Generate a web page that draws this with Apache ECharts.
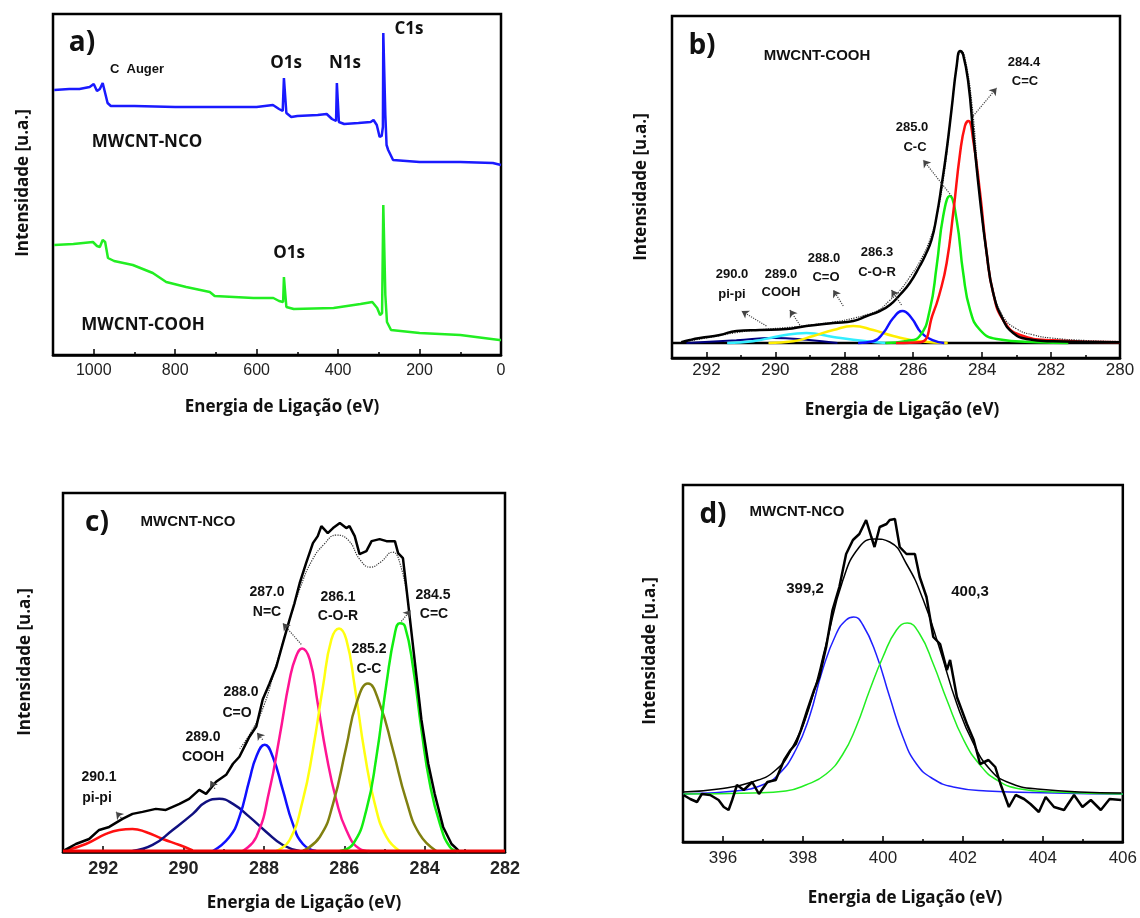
<!DOCTYPE html>
<html>
<head>
<meta charset="utf-8">
<title>XPS MWCNT</title>
<script src="https://cdn.jsdelivr.net/npm/echarts@6/dist/echarts.min.js"></script>
<style>
    html, body { margin: 0; padding: 0; background: #fff; }
    #chart { width: 1140px; height: 918px; }
</style>
</head>
<body>
<div id="chart"></div>
<script>
// ---- a) survey spectra [eV, intensity]
var aNCO = [[1097,265],[1060,266],[1035,266],[1010,268],[1000,271],[992,264],[985,266],[978,272],[972,262],[966,252],[958,249],[900,249],[800,248],[700,248],[600,248],[560,250],[545,246],[536,244],[533,277],[530,277],[527,242],[515,238],[500,239],[450,240],[428,241],[415,236],[405,234],[403,272],[401,272],[398,233],[385,231],[350,232],[320,233],[313,235],[305,230],[298,218],[293,219],[290,228],[289,322],[287,322],[284,240],[281,210],[277,205],[271,200],[265,195],[200,193],[100,193],[20,192],[0,190]];
var aCOOH = [[1097,110],[1050,111],[1002,113],[992,109],[985,108],[978,115],[972,113],[965,97],[950,94],[904,90],[855,82],[822,73],[773,68],[715,63],[703,59],[608,57],[559,57],[545,54],[535,53],[533,78],[530,78],[527,48],[509,46],[411,47],[345,51],[316,53],[304,47],[297,40],[292,42],[289,150],[287,150],[284,60],[280,33],[270,25],[200,22],[100,20],[4,15],[0,15]];

// ---- b) C1s MWCNT-COOH
var bExp = [[292.73,0.7],[292.48,3],[292.19,5],[291.61,8],[291.13,12],[290.45,13],[289.68,14],[289.1,17],[288.32,20],[287.74,22],[287.35,27],[286.97,32],[286.68,38],[286.39,48],[286.1,60],[285.81,77],[285.66,87],[285.47,103],[285.32,127],[285.18,157],[285.03,193],[284.89,233],[284.74,277],[284.64,292],[284.55,288],[284.4,260],[284.26,210],[284.06,143],[283.87,90],[283.68,50],[283.39,23],[283.1,10],[282.71,4],[281.94,1.7],[280,0.7]];
var bSum = [[292.7,1],[292,5],[291.2,10],[290.5,13],[289.5,16],[289,18],[288.3,21],[287.7,25],[287.3,29],[287,33],[286.7,42],[286.4,52],[286.1,66],[285.8,82],[285.5,105],[285.3,130],[285.1,170],[284.9,230],[284.7,285],[284.6,292],[284.5,285],[284.3,240],[284.1,160],[283.9,95],[283.7,55],[283.4,27],[283,14],[282.5,8],[282,5],[281,2.5],[280,1.5]];
var bCC = [[286.5,0],[285.8,0.7],[285.42,30],[285.23,50],[285.03,80],[284.84,130],[284.64,190],[284.5,217],[284.4,222],[284.26,203],[284.06,150],[283.87,90],[283.68,50],[283.39,23],[282.9,8],[281.94,2.7],[280,0.7]];
var bCmC = [[286.8,0],[286.19,2],[285.81,7],[285.52,33],[285.32,77],[285.13,127],[284.94,147],[284.74,123],[284.55,70],[284.35,33],[284.06,13],[283.58,4],[282.4,0.7],[281.5,0]];
var bCOR = [[287.6,0],[287.16,1.7],[286.87,10],[286.58,25],[286.31,32],[286.05,25],[285.76,10],[285.42,2.7],[285.1,0]];
var bCO = [[290.2,0],[289.48,1.7],[288.9,7],[288.32,13],[287.74,17],[287.16,13],[286.58,7],[285.81,1.7],[285,0]];
var bCOOH = [[291.4,0],[290.65,1.7],[289.87,7],[289.1,10],[288.32,6],[287.35,1.7],[286.8,0]];
var bPi = [[292.58,0],[291.13,2.7],[290.06,5],[289.1,3.3],[288.2,0]];
var bBase = [[293,0],[280,0]];
var bArrows = [[[284.26,227],[283.58,255]],[[284.89,147],[285.71,183]],[[286.34,38],[286.63,53]],[[288.03,37],[288.32,53]],[[289.29,18],[289.58,33]],[[290.26,17],[290.98,32]]];

// ---- c) C1s MWCNT-NCO
var cExp = [[292.97,0.7],[292.68,7],[292.35,12],[292.1,21],[291.85,24],[291.52,32],[291.27,37],[291.02,39],[290.69,42],[290.44,41],[290.1,47],[289.86,52],[289.61,61],[289.44,57],[289.19,69],[288.94,76],[288.77,87],[288.61,94],[288.36,114],[288.19,124],[288.03,151],[287.86,167],[287.69,184],[287.53,207],[287.36,231],[287.24,247],[287.11,267],[286.95,287],[286.78,307],[286.66,314],[286.57,324],[286.41,317],[286.28,322],[286.11,327],[285.95,322],[285.87,324],[285.74,314],[285.62,296],[285.45,299],[285.32,309],[285.12,311],[284.95,309],[284.74,309],[284.66,297],[284.54,292],[284.41,247],[284.24,187],[284.08,131],[283.91,87],[283.75,57],[283.54,24],[283.33,7],[283.16,0.7]];
var cSum = [[288.6,102],[288.3,120],[288,145],[287.7,185],[287.4,225],[287.1,262],[286.8,290],[286.5,306],[286.2,315],[285.9,310],[285.6,290],[285.35,283],[285.1,288],[284.8,298],[284.6,285],[284.4,245]];
var cPi = [[292.93,0.7],[292.43,7],[291.93,17],[291.6,21],[291.27,22],[290.94,19],[290.52,12],[290.1,6],[289.77,0.7]];
var cCOOH = [[291.27,0],[290.77,6],[290.27,21],[289.77,37],[289.44,49],[289.11,52],[288.77,47],[288.36,34],[287.94,19],[287.53,6],[287.11,0]];
var cCO = [[289.27,0],[288.86,14],[288.61,34],[288.36,71],[288.19,94],[287.98,106],[287.78,94],[287.53,61],[287.28,27],[287.03,7],[286.7,0]];
var cNC = [[288.53,0],[288.19,14],[287.86,61],[287.61,114],[287.36,171],[287.2,194],[287.05,202],[286.86,191],[286.66,147],[286.45,97],[286.2,51],[285.95,21],[285.62,2.3],[285.37,0]];
var cCOR = [[287.69,0],[287.36,11],[287.03,51],[286.78,101],[286.53,164],[286.32,211],[286.13,222],[285.95,211],[285.74,164],[285.49,97],[285.24,47],[284.95,14],[284.62,0]];
var cCmC = [[287.03,0],[286.61,14],[286.28,47],[285.95,104],[285.7,147],[285.41,167],[285.12,147],[284.79,101],[284.46,51],[284.13,17],[283.71,0]];
var cCC = [[286.11,0],[285.78,7],[285.45,41],[285.2,94],[284.95,167],[284.74,217],[284.62,227],[284.49,224],[284.28,181],[284.08,121],[283.87,67],[283.62,27],[283.37,4],[283.16,0]];
var cBase = [[293,0],[282,0]];
var cArrows = [[[287.07,206],[287.53,227]],[[284.58,229],[284.35,240]],[[288.03,111],[288.17,118]],[[289.22,62],[289.33,70]],[[291.55,33],[291.68,39]]];

// ---- d) N1s MWCNT-NCO
var dExp = [[395.01,47],[395.18,43],[395.35,40],[395.47,48],[395.68,47],[395.89,42],[396.02,35],[396.14,32],[396.23,42],[396.35,57],[396.52,52],[396.73,60],[396.9,48],[397.11,60],[397.32,62],[397.53,82],[397.69,92],[397.82,98],[397.95,112],[398.11,132],[398.28,152],[398.41,165],[398.58,195],[398.74,232],[398.91,255],[399.08,288],[399.25,302],[399.41,308],[399.58,322],[399.71,305],[399.79,295],[399.92,315],[400.09,318],[400.17,322],[400.3,323],[400.42,295],[400.59,288],[400.8,288],[400.92,265],[401.09,245],[401.26,205],[401.43,198],[401.6,172],[401.68,182],[401.85,145],[402.1,118],[402.27,102],[402.43,78],[402.64,82],[402.81,75],[402.94,58],[403.15,35],[403.32,47],[403.53,43],[403.69,38],[403.9,30],[404.07,45],[404.28,35],[404.53,32],[404.78,47],[404.99,35],[405.2,42],[405.45,32],[405.67,43],[405.96,42]];
var dSum = [[395.01,50],[395.89,53],[396.73,60],[397.32,72],[397.74,95],[398.16,135],[398.58,198],[399.0,262],[399.41,295],[399.79,303],[400.17,300],[400.59,278],[401.01,242],[401.43,192],[401.85,138],[402.27,98],[402.69,72],[403.11,60],[403.86,53],[405.96,49]];
var d3992 = [[395.01,48],[396.31,51],[396.98,57],[397.4,68],[397.82,92],[398.16,125],[398.49,172],[398.83,208],[399.08,222],[399.27,225],[399.5,217],[399.83,188],[400.17,145],[400.5,105],[400.84,78],[401.26,63],[401.76,55],[402.6,51],[404.28,49],[406,48]];
var d4003 = [[395.01,48],[396.73,49],[397.57,51],[398.07,57],[398.58,68],[399.0,88],[399.33,115],[399.67,152],[400.0,185],[400.34,212],[400.61,219],[400.92,208],[401.26,178],[401.6,142],[402.02,102],[402.43,77],[402.85,62],[403.44,53],[404.28,50],[406,48]];

var chart = echarts.init(document.getElementById('chart'));

var tickFont = 'Liberation Sans, Arial, sans-serif';
var titleFont = 'Open Sans, DejaVu Sans, sans-serif';

function grid(l, t, w, h) {
    return {left: l, top: t, width: w, height: h, show: true, borderColor: '#000', borderWidth: 2.5, backgroundColor: 'transparent'};
}
function xAx(gi, min, max, interval, inverse, fs, bold, hideMin, margin) {
    var ax = {
        gridIndex: gi, type: 'value', min: min, max: max, inverse: inverse,
        axisLine: {show: true, onZero: false, lineStyle: {color: '#000', width: 2.5}},
        axisTick: {show: true, inside: true, length: 6, lineStyle: {color: '#000', width: 1.5}},
        minorTick: {show: true, splitNumber: 2, length: 3, lineStyle: {color: '#000', width: 1.5}},
        axisLabel: {color: '#222', fontSize: fs, fontFamily: tickFont, fontWeight: bold ? 'bold' : 'normal', margin: margin || 8,
            showMaxLabel: hideMin ? true : false, showMinLabel: hideMin ? false : true,
            formatter: function (v) { return String(v); }},
        splitLine: {show: false}
    };
    if (interval) ax.interval = interval;
    return ax;
}
function yAx(gi, min, max) {
    return {gridIndex: gi, type: 'value', min: min, max: max, show: false, splitLine: {show: false}};
}
function line(gi, data, color, width, smooth, dash) {
    return {
        type: 'line', xAxisIndex: gi, yAxisIndex: gi, data: data, showSymbol: false, symbol: 'none',
        smooth: smooth, z: 3,
        lineStyle: {color: color, width: width, type: dash || 'solid'}
    };
}
function arrows(gi, list) {
    return {
        type: 'line', xAxisIndex: gi, yAxisIndex: gi, data: [], symbol: 'none',
        markLine: {
            silent: true, symbol: ['none', 'arrow'], symbolSize: 7,
            lineStyle: {type: 'dotted', color: '#444', width: 1.2},
            label: {show: false},
            data: list.map(function (a) { return [{coord: a[0]}, {coord: a[1]}]; })
        }
    };
}
function txt(x, y, s, size, weight, rot, font) {
    return {
        type: 'text', x: x, y: y, rotation: rot || 0, z: 10,
        style: {text: s, fill: '#111', fontSize: size, fontWeight: weight || 'bold',
            fontFamily: font || tickFont, align: 'center', verticalAlign: 'middle'}
    };
}

var option = {
    animation: false,
    backgroundColor: '#fff',
    grid: [grid(53, 14, 448, 341), grid(672, 16, 448, 342), grid(63, 493, 442, 359), grid(683, 485, 441, 357)],
    xAxis: [
        xAx(0, 0, 1100, 200, true, 16, false),
        xAx(1, 280, 293, 2, true, 17, false, false, 4),
        xAx(2, 282, 293, 2, true, 18, true),
        xAx(3, 395, 406, null, false, 17, false, true)
    ],
    yAxis: [yAx(0, 0, 341), yAx(1, -15, 327), yAx(2, -1, 357), yAx(3, 0, 357)],
    series: [
        line(0, aNCO, '#1a1aff', 2.5, false),
        line(0, aCOOH, '#22ee22', 2.5, false),

        line(1, bBase, '#000', 2.5, false),
        line(1, bPi, '#000080', 2, true),
        line(1, bCOOH, '#33eeff', 2.5, true),
        line(1, bCO, '#ffee00', 2.5, true),
        line(1, bCOR, '#1010ff', 2.5, true),
        line(1, bCmC, '#11ee11', 2.5, true),
        line(1, bCC, '#ff1010', 2.5, true),
        line(1, bSum, '#333', 1.2, true, 'dotted'),
        line(1, bExp, '#000', 2.5, true),
        arrows(1, bArrows),

        line(2, cPi, '#ff1010', 2.5, true),
        line(2, cCOOH, '#101080', 2.5, true),
        line(2, cCO, '#1010ff', 2.5, true),
        line(2, cNC, '#ff1493', 2.5, true),
        line(2, cCOR, '#ffff10', 2.5, true),
        line(2, cCmC, '#808010', 2.5, true),
        line(2, cCC, '#11ee11', 2.5, true),
        line(2, cSum, '#333', 1.2, true, 'dotted'),
        line(2, cExp, '#000', 2.5, false),
        line(2, cBase, '#ee0000', 3, false),
        arrows(2, cArrows),

        line(3, d3992, '#2020ff', 1.5, true),
        line(3, d4003, '#22ee22', 1.5, true),
        line(3, dSum, '#000', 1.5, true),
        line(3, dExp, '#000', 2.5, false)
    ],
    graphic: [
        // axis titles
        txt(282, 407, 'Energia de Ligação (eV)', 17, 'bold', 0, titleFont),
        txt(902, 410, 'Energia de Ligação (eV)', 17, 'bold', 0, titleFont),
        txt(304, 903, 'Energia de Ligação (eV)', 17, 'bold', 0, titleFont),
        txt(905, 898, 'Energia de Ligação (eV)', 17, 'bold', 0, titleFont),
        txt(23, 183, 'Intensidade [u.a.]', 17, 'bold', Math.PI / 2, titleFont),
        txt(641, 187, 'Intensidade [u.a.]', 17, 'bold', Math.PI / 2, titleFont),
        txt(25, 662, 'Intensidade [u.a.]', 17, 'bold', Math.PI / 2, titleFont),
        txt(650, 651, 'Intensidade [u.a.]', 17, 'bold', Math.PI / 2, titleFont),
        // a)
        txt(82, 43, 'a)', 28, 'bold', 0, titleFont),
        txt(137, 69, 'C  Auger', 13, 'bold'),
        txt(286, 63, 'O1s', 17, 'bold', 0, titleFont),
        txt(345, 63, 'N1s', 17, 'bold', 0, titleFont),
        txt(409, 29, 'C1s', 17, 'bold', 0, titleFont),
        txt(147, 142, 'MWCNT-NCO', 17, 'bold', 0, titleFont),
        txt(289, 253, 'O1s', 17, 'bold', 0, titleFont),
        txt(143, 325, 'MWCNT-COOH', 17, 'bold', 0, titleFont),
        // b)
        txt(702, 46, 'b)', 28, 'bold', 0, titleFont),
        txt(817, 56, 'MWCNT-COOH', 15, 'bold'),
        txt(1024, 62, '284.4', 13, 'bold'),
        txt(1025, 81, 'C=C', 13, 'bold'),
        txt(912, 127, '285.0', 13, 'bold'),
        txt(915, 147, 'C-C', 13, 'bold'),
        txt(877, 252, '286.3', 13, 'bold'),
        txt(877, 272, 'C-O-R', 13, 'bold'),
        txt(824, 258, '288.0', 13, 'bold'),
        txt(826, 277, 'C=O', 13, 'bold'),
        txt(732, 274, '290.0', 13, 'bold'),
        txt(732, 294, 'pi-pi', 13, 'bold'),
        txt(781, 274, '289.0', 13, 'bold'),
        txt(781, 292, 'COOH', 13, 'bold'),
        // c)
        txt(97, 523, 'c)', 28, 'bold', 0, titleFont),
        txt(188, 522, 'MWCNT-NCO', 15, 'bold'),
        txt(267, 592, '287.0', 14, 'bold'),
        txt(267, 612, 'N=C', 14, 'bold'),
        txt(338, 597, '286.1', 14, 'bold'),
        txt(338, 616, 'C-O-R', 14, 'bold'),
        txt(433, 595, '284.5', 14, 'bold'),
        txt(434, 614, 'C=C', 14, 'bold'),
        txt(369, 649, '285.2', 14, 'bold'),
        txt(369, 669, 'C-C', 14, 'bold'),
        txt(241, 692, '288.0', 14, 'bold'),
        txt(237, 713, 'C=O', 14, 'bold'),
        txt(203, 737, '289.0', 14, 'bold'),
        txt(203, 757, 'COOH', 14, 'bold'),
        txt(99, 777, '290.1', 14, 'bold'),
        txt(97, 798, 'pi-pi', 14, 'bold'),
        // d)
        txt(713, 515, 'd)', 28, 'bold', 0, titleFont),
        txt(797, 512, 'MWCNT-NCO', 15, 'bold'),
        txt(805, 589, '399,2', 15, 'bold'),
        txt(970, 592, '400,3', 15, 'bold')
    ]
};
chart.setOption(option);
</script>
</body>
</html>
